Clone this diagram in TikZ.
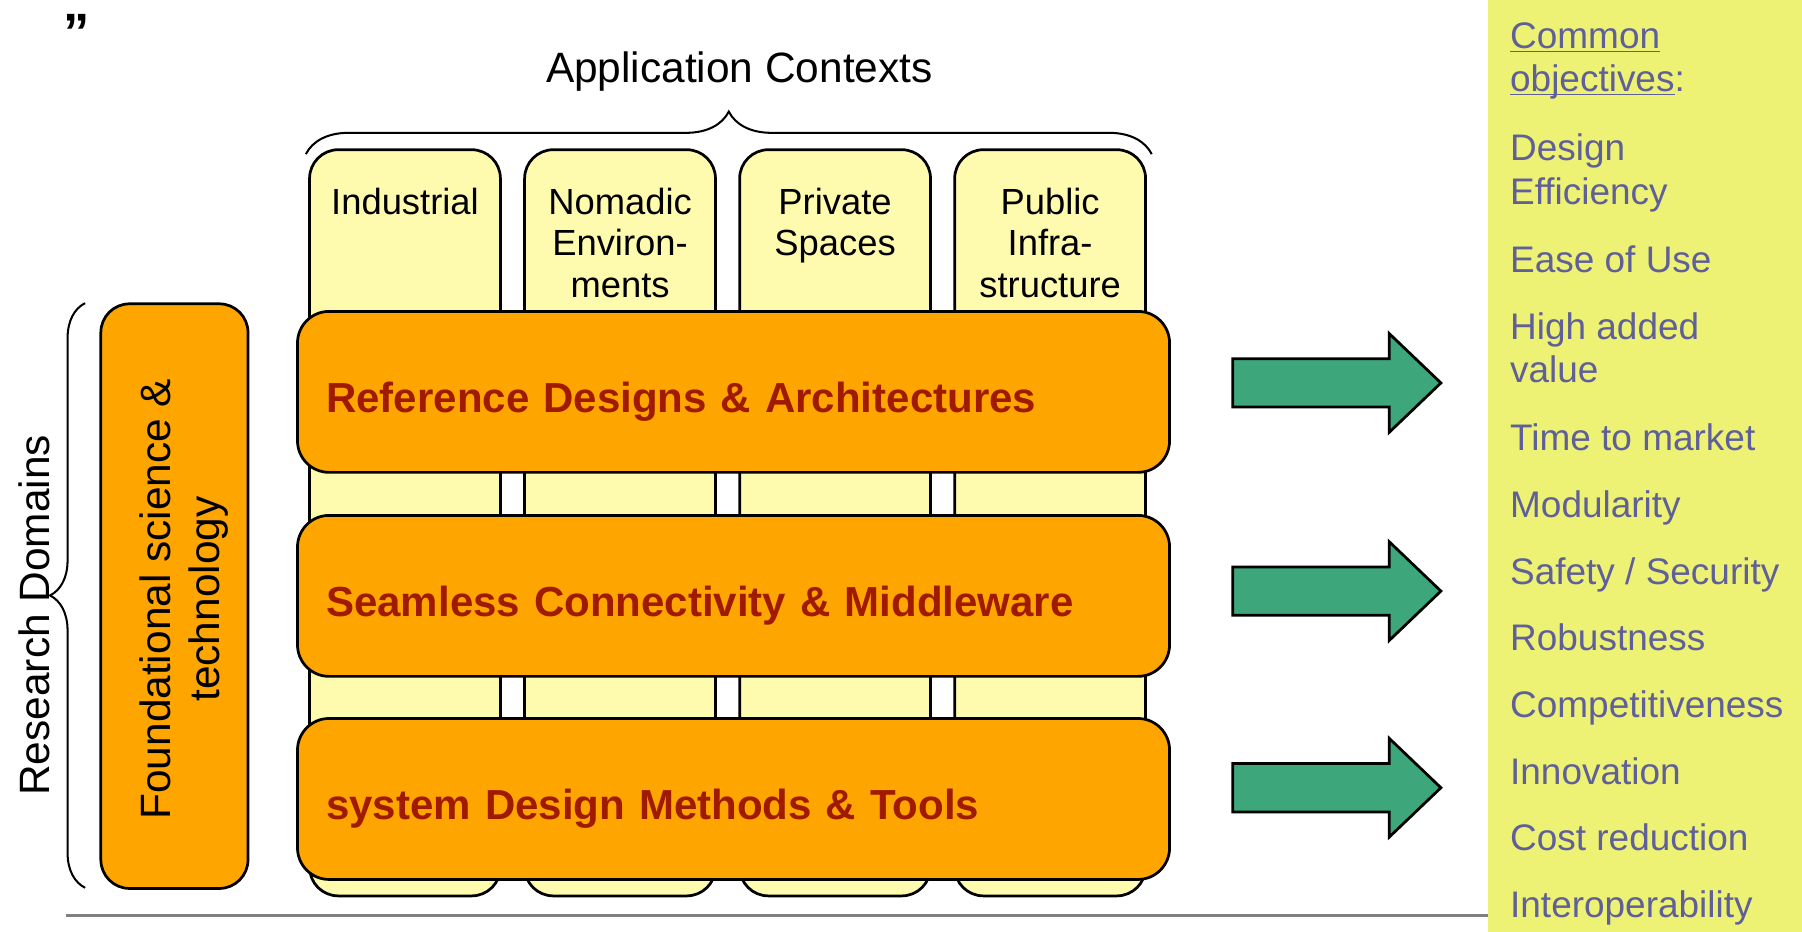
\documentclass[tikz,border=0pt]{standalone}
\usepackage{fontspec}
\setmainfont{Liberation Sans}
\usetikzlibrary{decorations.pathreplacing,positioning}

\definecolor{appyellow}{HTML}{FFFBAE}
\definecolor{domorange}{HTML}{FFA500}
\definecolor{domred}{HTML}{A01A00}
\definecolor{arrowgreen}{HTML}{3DA67A}
\definecolor{panelyellow}{HTML}{EEF274}
\definecolor{objblue}{HTML}{5F5F99}
\definecolor{rulegray}{HTML}{808080}

\begin{document}
\begin{tikzpicture}[x=0.02cm, y=-0.02cm, line width=1.35pt,
        colbox/.style={draw, fill=appyellow, rounded corners=0.5cm, minimum width=3.32cm, minimum height=12.98cm, anchor=north west, inner sep=0pt},
        collabel/.style={align=center, inner sep=0pt, font=\fontsize{18}{20.4}\selectfont},
        domainbar/.style={draw, fill=domorange, rounded corners=0.55cm, anchor=north west, minimum height=2.8cm, text width=14.17cm, inner xsep=0.5cm, text height=20.6pt, text depth=0pt, align=left, text=domred, font=\bfseries\fontsize{20.8}{25}\selectfont},
        bigtext/.style={inner sep=0pt, font=\fontsize{21}{24}\selectfont},
        bracket/.style={decorate, decoration={brace, amplitude=#1}, line width=1pt},
        fatarrow/.style={draw, fill=arrowgreen},
        objective/.style={anchor=base west, inner sep=0pt, text=objblue, font=\fontsize{18.3}{21}\selectfont}]
        \useasboundingbox (0, 0) rectangle (1567, 810.4);

        \node[anchor=north, inner sep=0pt, font=\bfseries\fontsize{26}{26}\selectfont] (quote) at (67, 11) {”};

        \node[bigtext] (apptext) at (643, 62.4) {Application Contexts};
        \draw[bracket=0.74cm] (266, 134) -- (1001.5, 134);

        \node[colbox] (ind) at (268, 129) {};
        \node[colbox] (nom) at (455, 129) {};
        \node[colbox] (pri) at (642, 129) {};
        \node[colbox] (pub) at (829, 129) {};
        \node[collabel, below=0.67cm of ind.north] (indlabel) {Industrial};
        \node[collabel, below=0.67cm of nom.north] (nomlabel) {Nomadic\\Environ-\\ments};
        \node[collabel, below=0.67cm of pri.north] (prilabel) {Private\\Spaces};
        \node[collabel, below=0.67cm of pub.north] (publabel) {Public\\Infra-\\structure};

        \node[domainbar] (refdes) at (257.5, 269.6) {Reference Designs \& Architectures};
        \node[domainbar] (conn) at (257.5, 447) {Seamless Connectivity \& Middleware};
        \node[domainbar] (tools) at (257.5, 623.6) {system Design Methods \& Tools};

        \node[draw, fill=domorange, rounded corners=0.5cm, minimum width=2.56cm, minimum height=10.17cm, anchor=north west, inner sep=0pt] (found) at (86.5, 263) {};
        \node[bigtext, rotate=90, align=center, font=\fontsize{21}{23.8}\selectfont] (foundtext) at (160, 521) {Foundational science \&\\technology};

        \node[bigtext, rotate=90] (research) at (29.6, 535) {Research Domains};
        \draw[bracket=0.61cm] (74, 772) -- (74, 263.6);

        \foreach \y in {333, 514, 685}
            \draw[fatarrow] (1072, {\y-21}) -- (1208, {\y-21}) -- (1208, {\y-43}) -- (1253, \y) -- (1208, {\y+43}) -- (1208, {\y+21}) -- (1072, {\y+21}) -- cycle;

        \draw[rulegray, line width=1.3pt] (57.5, 796) -- (1294, 796);

        \fill[panelyellow] (1294, 0) rectangle (1567, 810.4);
        \foreach \y/\t [count=\i] in {42/{\underline{\smash{Common}}}, 80/{\underline{\smash{objectives}}:}, 140/Design, 178/Efficiency, 237/{Ease of Use}, 295/{High added}, 333/value, 392/{Time to market}, 450/Modularity, 508/{Safety / Security}, 566/Robustness, 624/Competitiveness, 682/Innovation, 740/{Cost reduction}, 798/Interoperability}
            \node[objective] (obj\i) at (1312, \y) {\t};
    \end{tikzpicture}
\end{document}
